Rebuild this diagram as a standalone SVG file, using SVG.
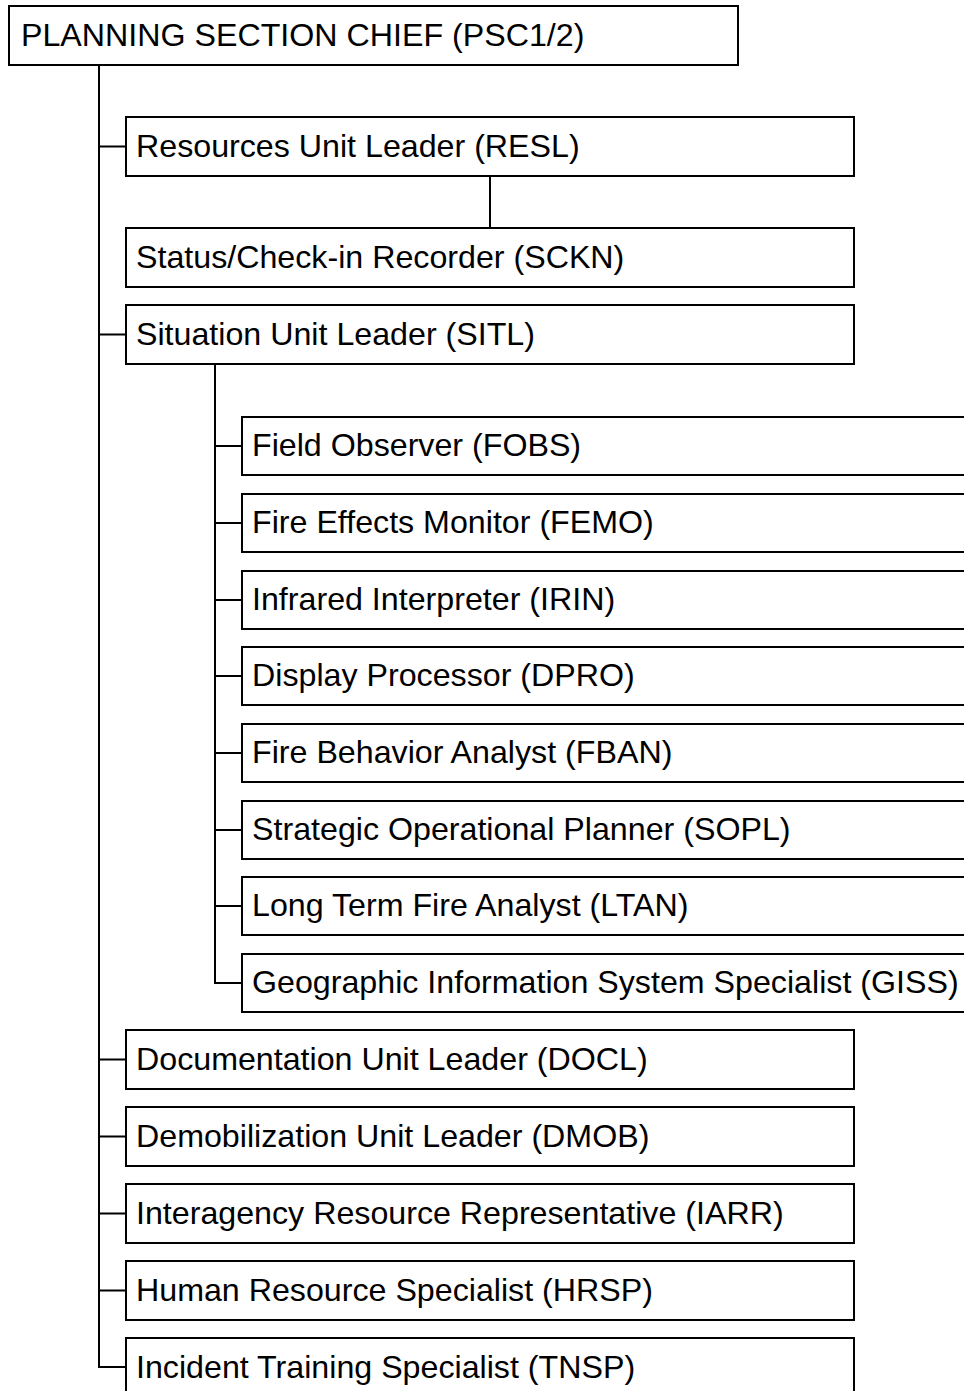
<svg xmlns="http://www.w3.org/2000/svg" width="964" height="1391" viewBox="0 0 964 1391">
<style>
.b{fill:#fff;stroke:#000;stroke-width:2}
.c{fill:none;stroke:#000;stroke-width:2}
text{font-family:"Liberation Sans",Arial,sans-serif;font-size:32.2px;fill:#000}
</style>
<rect width="964" height="1391" fill="#fff"/>
<g id="connectors">
<path class="c" d="M99 65V1367H126"/>
<path class="c" d="M99 146.5H126M99 334.5H126M99 1059.5H126M99 1136.5H126M99 1213.5H126M99 1290.5H126"/>
<path class="c" d="M490 176V228"/>
<path class="c" d="M215 364V983H242"/>
<path class="c" d="M215 446H242M215 523H242M215 600H242M215 676H242M215 753H242M215 830H242M215 906H242"/>
</g>
<g id="psc"><rect class="b" x="9" y="6" width="729" height="59"/><text x="21" y="46">PLANNING SECTION CHIEF (PSC1/2)</text></g>
<g id="resl"><rect class="b" x="126" y="117" width="728" height="59"/><text x="136" y="157">Resources Unit Leader (RESL)</text></g>
<g id="sckn"><rect class="b" x="126" y="228" width="728" height="59"/><text x="136" y="268">Status/Check-in Recorder (SCKN)</text></g>
<g id="sitl"><rect class="b" x="126" y="305" width="728" height="59"/><text x="136" y="345">Situation Unit Leader (SITL)</text></g>
<g id="fobs"><rect class="b" x="242" y="417" width="740" height="58"/><text x="252" y="456">Field Observer (FOBS)</text></g>
<g id="femo"><rect class="b" x="242" y="494" width="740" height="58"/><text x="252" y="533">Fire Effects Monitor (FEMO)</text></g>
<g id="irin"><rect class="b" x="242" y="571" width="740" height="58"/><text x="252" y="610">Infrared Interpreter (IRIN)</text></g>
<g id="dpro"><rect class="b" x="242" y="647" width="740" height="58"/><text x="252" y="686">Display Processor (DPRO)</text></g>
<g id="fban"><rect class="b" x="242" y="724" width="740" height="58"/><text x="252" y="763">Fire Behavior Analyst (FBAN)</text></g>
<g id="sopl"><rect class="b" x="242" y="801" width="740" height="58"/><text x="252" y="840">Strategic Operational Planner (SOPL)</text></g>
<g id="ltan"><rect class="b" x="242" y="877" width="740" height="58"/><text x="252" y="916">Long Term Fire Analyst (LTAN)</text></g>
<g id="giss"><rect class="b" x="242" y="954" width="740" height="58"/><text x="252" y="993">Geographic Information System Specialist (GISS)</text></g>
<g id="docl"><rect class="b" x="126" y="1030" width="728" height="59"/><text x="136" y="1070">Documentation Unit Leader (DOCL)</text></g>
<g id="dmob"><rect class="b" x="126" y="1107" width="728" height="59"/><text x="136" y="1147">Demobilization Unit Leader (DMOB)</text></g>
<g id="iarr"><rect class="b" x="126" y="1184" width="728" height="59"/><text x="136" y="1224">Interagency Resource Representative (IARR)</text></g>
<g id="hrsp"><rect class="b" x="126" y="1261" width="728" height="59"/><text x="136" y="1301">Human Resource Specialist (HRSP)</text></g>
<g id="tnsp"><rect class="b" x="126" y="1338" width="728" height="59"/><text x="136" y="1378">Incident Training Specialist (TNSP)</text></g>
</svg>
